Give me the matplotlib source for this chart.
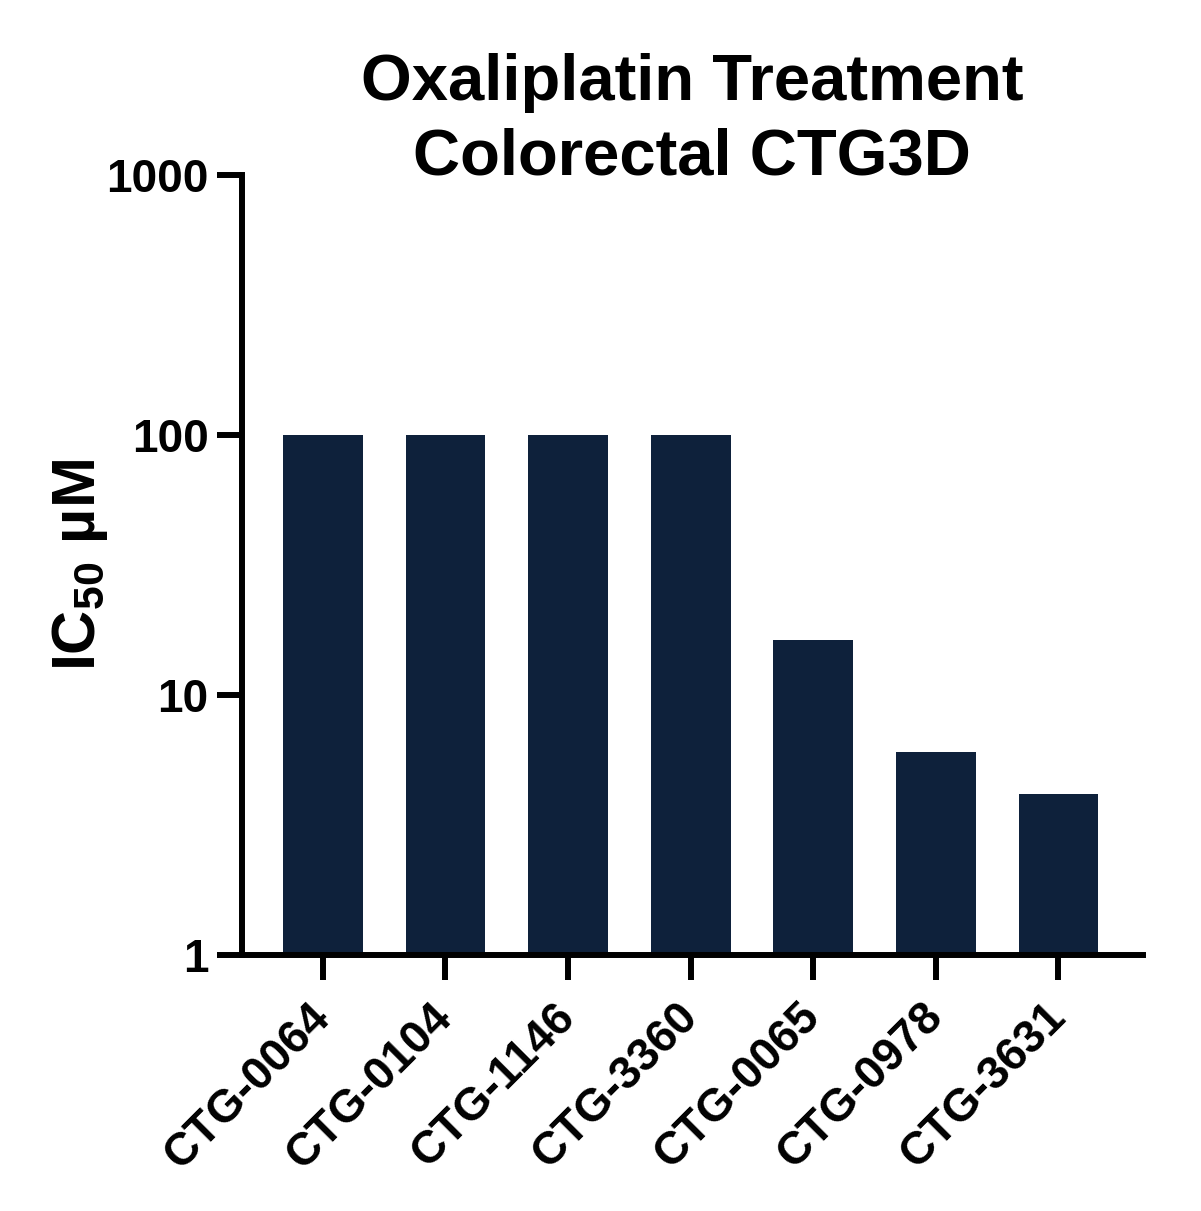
import matplotlib
matplotlib.use("Agg")
import matplotlib.pyplot as plt
from matplotlib.ticker import FixedLocator, NullLocator

plt.rcParams['font.family'] = ['Liberation Sans', 'DejaVu Sans']
plt.rcParams['font.weight'] = 'bold'
plt.rcParams['mathtext.fontset'] = 'custom'
plt.rcParams['mathtext.rm'] = 'Liberation Sans:bold'
plt.rcParams['mathtext.bf'] = 'Liberation Sans:bold'

models = ['CTG-0064', 'CTG-0104', 'CTG-1146', 'CTG-3360', 'CTG-0065', 'CTG-0978', 'CTG-3631']
ic50 = [100, 100, 100, 100, 16.3, 6.05, 4.15]
yticks = [1, 10, 100, 1000]
ytick_labels = ['1', '10', '100', '1000']

fig = plt.figure(figsize=(12.01, 12.11), dpi=100)
ax = fig.add_axes([242 / 1201, 1 - 955 / 1211, (1143 - 242) / 1201, (955 - 175) / 1211])

ax.bar(range(len(models)), ic50, width=0.65, color='#0e213b')
ax.set_yscale('log')
ax.set_ylim(1, 1000)
ax.set_xlim(-0.66, len(models) - 1 + 0.69)

ax.yaxis.set_major_locator(FixedLocator(yticks))
ax.yaxis.set_minor_locator(NullLocator())
ax.set_yticklabels(ytick_labels)
ax.set_xticks(range(len(models)))
ax.set_xticklabels(models, rotation=45, ha='right', va='center', rotation_mode='anchor')

for s in ['top', 'right']:
    ax.spines[s].set_visible(False)
for s in ['left', 'bottom']:
    ax.spines[s].set_linewidth(4.3)
ax.tick_params(axis='both', width=4.3, length=18, labelsize=33, pad=6)
ax.tick_params(axis='x', pad=22)

ax.set_ylabel(r'IC$_{\mathbf{50}}$ µM', fontsize=44, fontweight='bold')
ax.yaxis.set_label_coords(-0.147, 0.5)

fig.text(692 / 1201, 1 - 120 / 1211, 'Oxaliplatin Treatment\nColorectal CTG3D',
         ha='center', va='center', fontsize=47, fontweight='bold', linespacing=1.3)

fig.savefig('out.png', dpi=100)
